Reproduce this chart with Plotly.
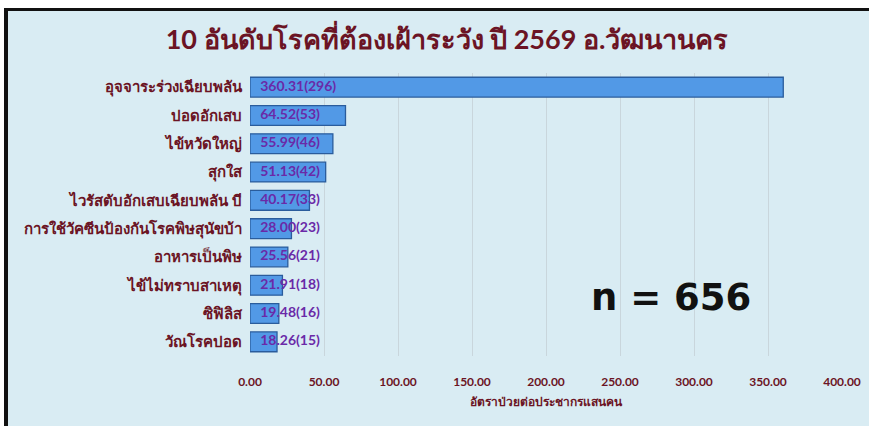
import plotly.graph_objects as go

categories = [
    "อุจจาระร่วงเฉียบพลัน",
    "ปอดอักเสบ",
    "ไข้หวัดใหญ่",
    "สุกใส",
    "ไวรัสตับอักเสบเฉียบพลัน บี",
    "การใช้วัคซีนป้องกันโรคพิษสุนัขบ้า",
    "อาหารเป็นพิษ",
    "ไข้ไม่ทราบสาเหตุ",
    "ซิฟิลิส",
    "วัณโรคปอด",
]
rates = [360.31, 64.52, 55.99, 51.13, 40.17, 28.00, 25.56, 21.91, 19.48, 18.26]
cases = [296, 53, 46, 42, 33, 23, 21, 18, 16, 15]
tick_vals = [0, 50, 100, 150, 200, 250, 300, 350, 400]
tick_text = ["%.2f" % v for v in tick_vals]

labels = ["%.2f(%d)" % (r, c) for r, c in zip(rates, cases)]

W, H = 869, 426
ML, MR, MT, MB = 250, 27, 73, 70
PW, PH = W - ML - MR, H - MT - MB

def px(x):
    return (x - ML) / PW

def py(y):
    return 1 - (y - MT) / PH

fig = go.Figure()
fig.add_trace(go.Bar(
    x=rates, y=categories, orientation="h",
    marker=dict(color="#5299e6", line=dict(color="#2a5c9c", width=1.3)),
    width=0.7, hoverinfo="skip", showlegend=False,
))
fig.add_trace(go.Scatter(
    x=[0] * len(rates), y=categories, mode="text", text=["   " + t for t in labels],
    textposition="middle right",
    textfont=dict(family="Lato, sans-serif", size=14, color="#6a2aa8", weight="bold"),
    hoverinfo="skip", showlegend=False, cliponaxis=False,
))

shapes = [
    dict(type="rect", xref="paper", yref="paper", x0=px(0), x1=px(W), y0=py(0), y1=py(8), fillcolor="white", line=dict(width=0), layer="above"),
    dict(type="rect", xref="paper", yref="paper", x0=px(0), x1=px(4), y0=py(0), y1=py(H), fillcolor="white", line=dict(width=0), layer="above"),
    dict(type="rect", xref="paper", yref="paper", x0=px(4), x1=px(W), y0=py(8), y1=py(11), fillcolor="#111111", line=dict(width=0), layer="above"),
    dict(type="rect", xref="paper", yref="paper", x0=px(4), x1=px(8), y0=py(8), y1=py(H), fillcolor="#111111", line=dict(width=0), layer="above"),
]

fig.update_layout(
    width=W, height=H,
    margin=dict(l=ML, r=MR, t=MT, b=MB, autoexpand=False),
    paper_bgcolor="#d9ecf3", plot_bgcolor="#d9ecf3",
    shapes=shapes,
    title=dict(
        text="10 อันดับโรคที่ต้องเฝ้าระวัง ปี 2569 อ.วัฒนานคร",
        x=447 / W, xanchor="center", y=1 - 40 / H, yanchor="middle",
        font=dict(family="Lato, sans-serif", size=27, color="#6b1424", weight="bold"),
    ),
    xaxis=dict(
        range=[0, 400], tickvals=tick_vals, ticktext=tick_text,
        showgrid=True, gridcolor="#c9d6dc", gridwidth=1, zeroline=False,
        showline=False, ticks="", ticklabelstandoff=17, automargin=False,
        tickfont=dict(family="Lato, sans-serif", size=12, color="#6b1424", weight="bold"),
        title=dict(text="อัตราป่วยต่อประชากรแสนคน", standoff=9,
                   font=dict(family="Lato, sans-serif", size=12, color="#6b1424", weight="bold")),
        fixedrange=True,
    ),
    yaxis=dict(
        autorange="reversed", showgrid=False, ticks="", showline=False,
        ticklabelstandoff=7, automargin=False,
        tickfont=dict(family="Lato, sans-serif", size=15, color="#6b1424", weight="bold"),
        fixedrange=True,
    ),
    annotations=[dict(
        text="n = 656", xref="paper", yref="paper", x=px(671), y=py(297),
        xanchor="center", yanchor="middle", showarrow=False,
        font=dict(family="DejaVu Sans, sans-serif", size=37, color="#111111", weight="bold"),
    )],
)

fig.write_html("out.html", config={"displayModeBar": False},
               post_script="document.body.style.margin='0';document.body.style.overflow='hidden';")
